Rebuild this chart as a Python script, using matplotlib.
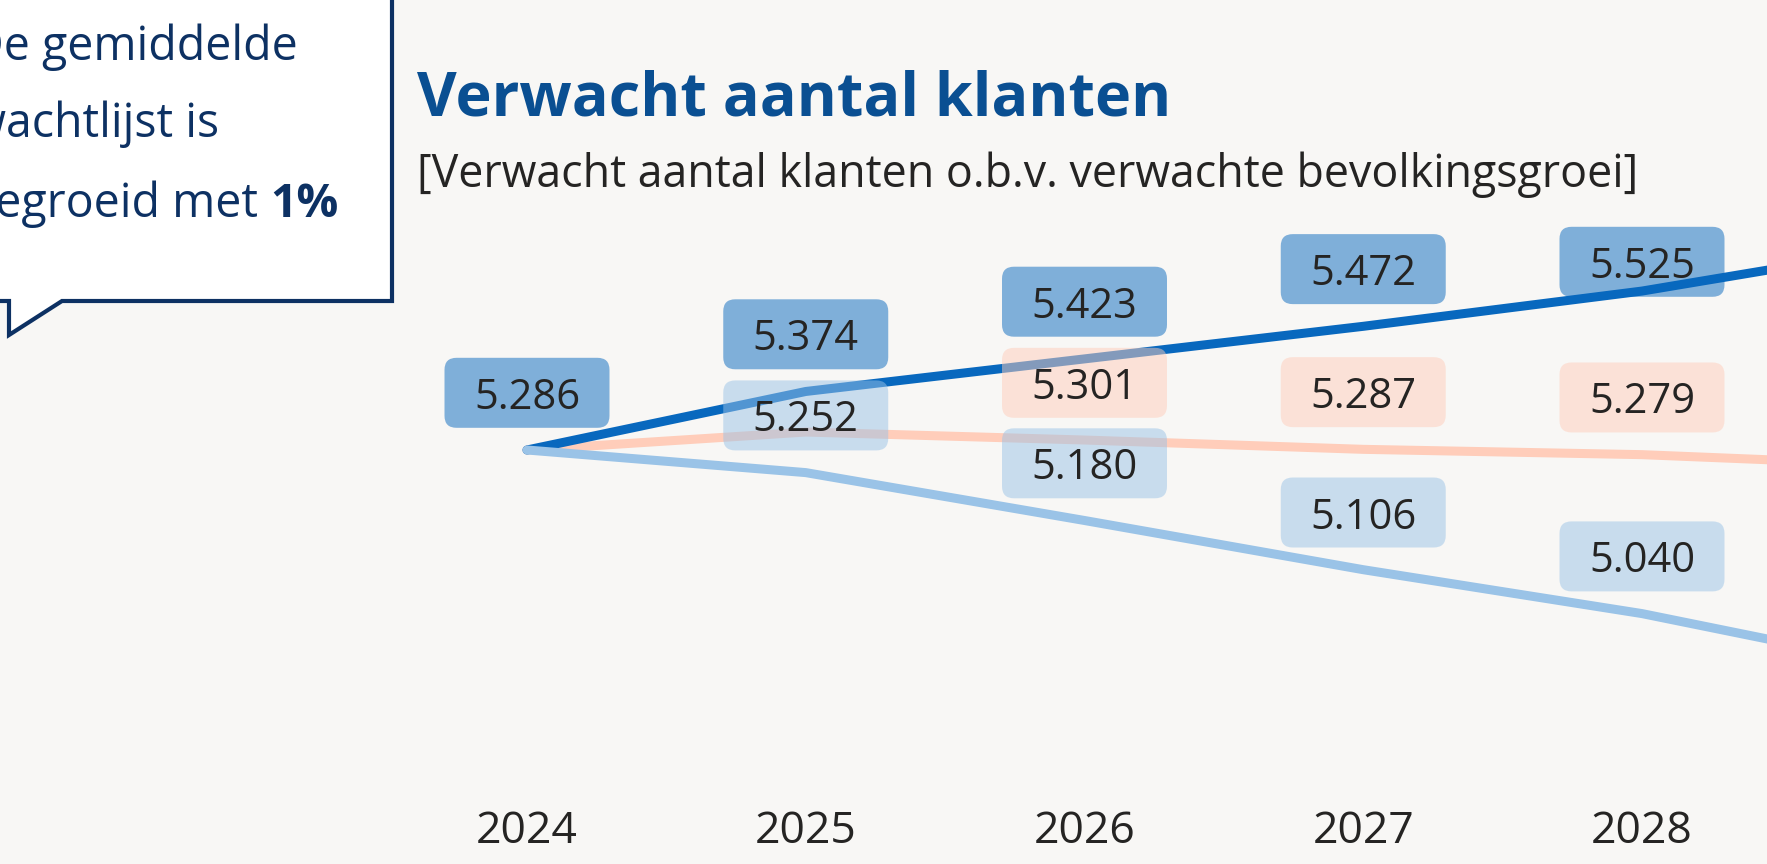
import matplotlib
matplotlib.use('Agg')
import matplotlib.pyplot as plt
from matplotlib.patches import FancyBboxPatch, Polygon

plt.rcParams['font.family'] = ['Open Sans', 'DejaVu Sans']

# data (aantal klanten per scenario)
jaren = [2024, 2025, 2026, 2027, 2028, 2029]
hoog = [5286, 5374, 5423, 5472, 5525, 5595]
midden = [5286, 5313, 5301, 5287, 5279, 5262]
laag = [5286, 5252, 5180, 5106, 5040, 4955]
toon_hoog = [1, 1, 1, 1, 1, 0]
toon_midden = [0, 0, 1, 1, 1, 0]
toon_laag = [0, 1, 1, 1, 1, 0]

titel = "Verwacht aantal klanten"
subtitel = "[Verwacht aantal klanten o.b.v. verwachte bevolkingsgroei]"
callout = ["De gemiddelde", "wachtlijst is", "gegroeid met "]
callout_bold = "1%"

bg = '#F8F7F5'
c_hoog = '#0868BE'
c_midden = '#FFCDBA'
c_laag = '#9AC3E7'
txt = '#252423'
navy = '#0D3163'

W, H = 1767, 864
fig = plt.figure(figsize=(W / 100, H / 100), dpi=100, facecolor=bg)


def fp(x, y):
    # pixel (from top-left) -> figure fraction
    return (x / W, 1 - y / H)


# axes
ax = fig.add_axes([0, 100 / H, 1, 1 - 100 / H])
ax.set_facecolor(bg)
for s in ax.spines.values():
    s.set_visible(False)
ax.set_yticks([])
ax.set_xticks(jaren)
ax.tick_params(axis='x', length=0, pad=33, labelsize=32, labelcolor=txt)

px_x = 278.75  # px per jaar
px_y = 0.665   # px per klant
ax.set_xlim(2024 - 527 / px_x, 2024 + (W - 527) / px_x)
ax.set_ylim(5286 - (764 - 450) / px_y, 5286 + 450 / px_y)

for vals, col in [(midden, c_midden), (hoog, c_hoog), (laag, c_laag)]:
    ax.plot(jaren, vals, color=col, lw=6.5, solid_capstyle='round',
            solid_joinstyle='round', zorder=2)

bw = 165 / px_x
bh = 70 / px_y
asp = px_x / px_y


def fmt(v):
    return f"{v:,}".replace(",", ".")


for vals, toon, col in [(hoog, toon_hoog, c_hoog), (midden, toon_midden, c_midden),
                        (laag, toon_laag, c_laag)]:
    for x, v, t in zip(jaren, vals, toon):
        if not t:
            continue
        y = min(v + 86, 5569)
        ax.add_patch(FancyBboxPatch((x - bw / 2, y - bh / 2), bw, bh,
                                    boxstyle=f"round,pad=0,rounding_size={12 / px_x}",
                                    mutation_aspect=asp, fc=col, alpha=0.5,
                                    ec='none', zorder=3))
        ax.text(x, y, fmt(v), ha='center', va='center_baseline', fontsize=30,
                color=txt, zorder=4)

# titels
fig.text(*fp(417, 115), titel, fontsize=44, fontweight='bold', color='#0A4F92',
         va='baseline', ha='left')
fig.text(*fp(417, 187), subtitel, fontsize=32.2, color=txt, va='baseline', ha='left')

# callout
pts = [fp(-10, -10), fp(392, -10), fp(392, 301), fp(62, 301), fp(9, 335),
       fp(9, 301), fp(-10, 301)]
fig.patches.append(Polygon(pts, closed=True, transform=fig.transFigure, fc='white',
                           ec=navy, lw=3, joinstyle='miter', zorder=5))
regels_y = [60, 137, 217]
laatste = None
for tekst, yy in zip(callout, regels_y):
    laatste = fig.text(*fp(-30, yy), tekst, fontsize=33.5, color=navy, va='baseline',
                       ha='left', zorder=6)
fig.canvas.draw()
bb = laatste.get_window_extent()
fig.text(bb.x1 / W, fp(0, regels_y[-1])[1], callout_bold, fontsize=33.5,
         fontweight='bold', color=navy, va='baseline', ha='left', zorder=6)

fig.savefig('out.png', dpi=100, facecolor=bg)
